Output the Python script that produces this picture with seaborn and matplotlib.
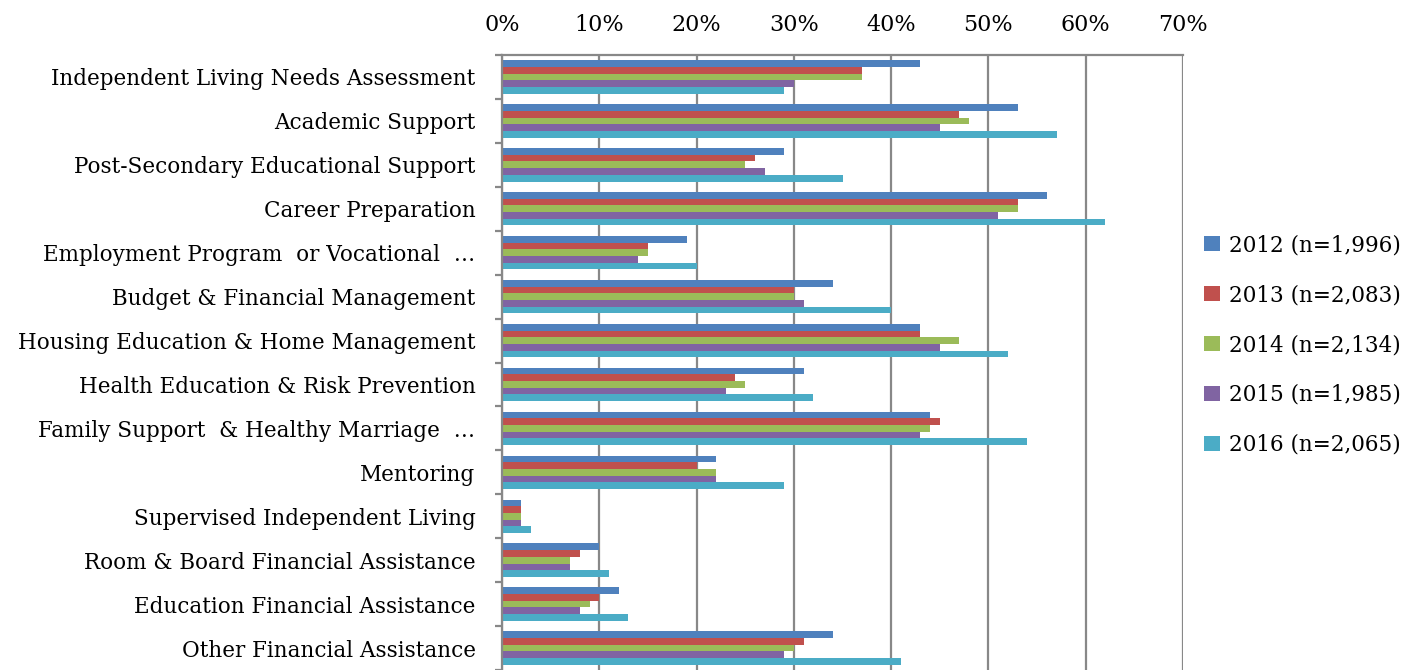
import matplotlib
matplotlib.use("Agg")
import matplotlib.pyplot as plt
import seaborn as sns
import pandas as pd
from matplotlib.patches import Patch
from matplotlib.ticker import FixedLocator, PercentFormatter

categories = [
    "Independent Living Needs Assessment",
    "Academic Support",
    "Post-Secondary Educational Support",
    "Career Preparation",
    "Employment Program  or Vocational  \u2026",
    "Budget & Financial Management",
    "Housing Education & Home Management",
    "Health Education & Risk Prevention",
    "Family Support  & Healthy Marriage  \u2026",
    "Mentoring",
    "Supervised Independent Living",
    "Room & Board Financial Assistance",
    "Education Financial Assistance",
    "Other Financial Assistance",
]
series_names = ["2012 (n=1,996)", "2013 (n=2,083)", "2014 (n=2,134)",
                "2015 (n=1,985)", "2016 (n=2,065)"]
v2012 = [43, 53, 29, 56, 19, 34, 43, 31, 44, 22, 2, 10, 12, 34]
v2013 = [37, 47, 26, 53, 15, 30, 43, 24, 45, 20, 2, 8, 10, 31]
v2014 = [37, 48, 25, 53, 15, 30, 47, 25, 44, 22, 2, 7, 9, 30]
v2015 = [30, 45, 27, 51, 14, 31, 45, 23, 43, 22, 2, 7, 8, 29]
v2016 = [29, 57, 35, 62, 20, 40, 52, 32, 54, 29, 3, 11, 13, 41]
colors = ["#4F81BD", "#C0504D", "#9BBB59", "#8064A2", "#4BACC6"]

rows = []
for name, vals in zip(series_names, [v2012, v2013, v2014, v2015, v2016]):
    for c, v in zip(categories, vals):
        rows.append({"Category": c, "Series": name, "Value": v / 100})
df = pd.DataFrame(rows)

sns.set_theme(style="white")
plt.rcParams["font.family"] = ["DejaVu Serif"]
plt.rcParams["text.color"] = "black"
FS = 15.5

fig = plt.figure(figsize=(14.21, 6.70), dpi=100)
ax = fig.add_axes([502 / 1421, 0.0, (1183 - 502) / 1421, 1 - 55 / 670])

sns.barplot(data=df, y="Category", x="Value", hue="Series", order=categories,
            hue_order=series_names, palette=colors, orient="h", width=0.76,
            gap=0, saturation=1, edgecolor="none", linewidth=0, legend=False, ax=ax)

ax.set_xlim(0, 0.7)
ax.set_ylim(len(categories) - 0.5, -0.5)
ax.xaxis.set_major_locator(FixedLocator([i / 10 for i in range(8)]))
ax.xaxis.set_major_formatter(PercentFormatter(1.0, decimals=0))
ax.xaxis.tick_top()
ax.xaxis.set_label_position("top")
ax.set_xlabel("")
ax.set_ylabel("")
ax.grid(axis="x", color="#888888", linewidth=1.6)
ax.set_axisbelow(True)
for s in ["right", "bottom"]:
    ax.spines[s].set_visible(False)
for s in ["left", "top"]:
    ax.spines[s].set_color("#888888")
    ax.spines[s].set_linewidth(1.6)

ax.tick_params(axis="x", length=0, pad=14, labelsize=FS + 0.5, colors="black")
ax.tick_params(axis="y", which="major", length=0, pad=19, labelsize=FS, colors="black")
ax.yaxis.set_minor_locator(FixedLocator([i - 0.5 for i in range(len(categories) + 1)]))
ax.tick_params(axis="y", which="minor", length=5, width=1.6, color="#888888", left=True)

handles = [Patch(facecolor=c, edgecolor="none", label=n) for c, n in zip(colors, series_names)]
leg = fig.legend(handles=handles, loc="center left", bbox_to_anchor=(1195 / 1421, 1 - 345 / 670),
                 frameon=False, fontsize=FS, handlelength=0.75, handleheight=0.75,
                 handletextpad=0.45, labelspacing=1.3, borderaxespad=0)
for t in leg.get_texts():
    t.set_color("black")

fig.savefig("out.png", dpi=100)
